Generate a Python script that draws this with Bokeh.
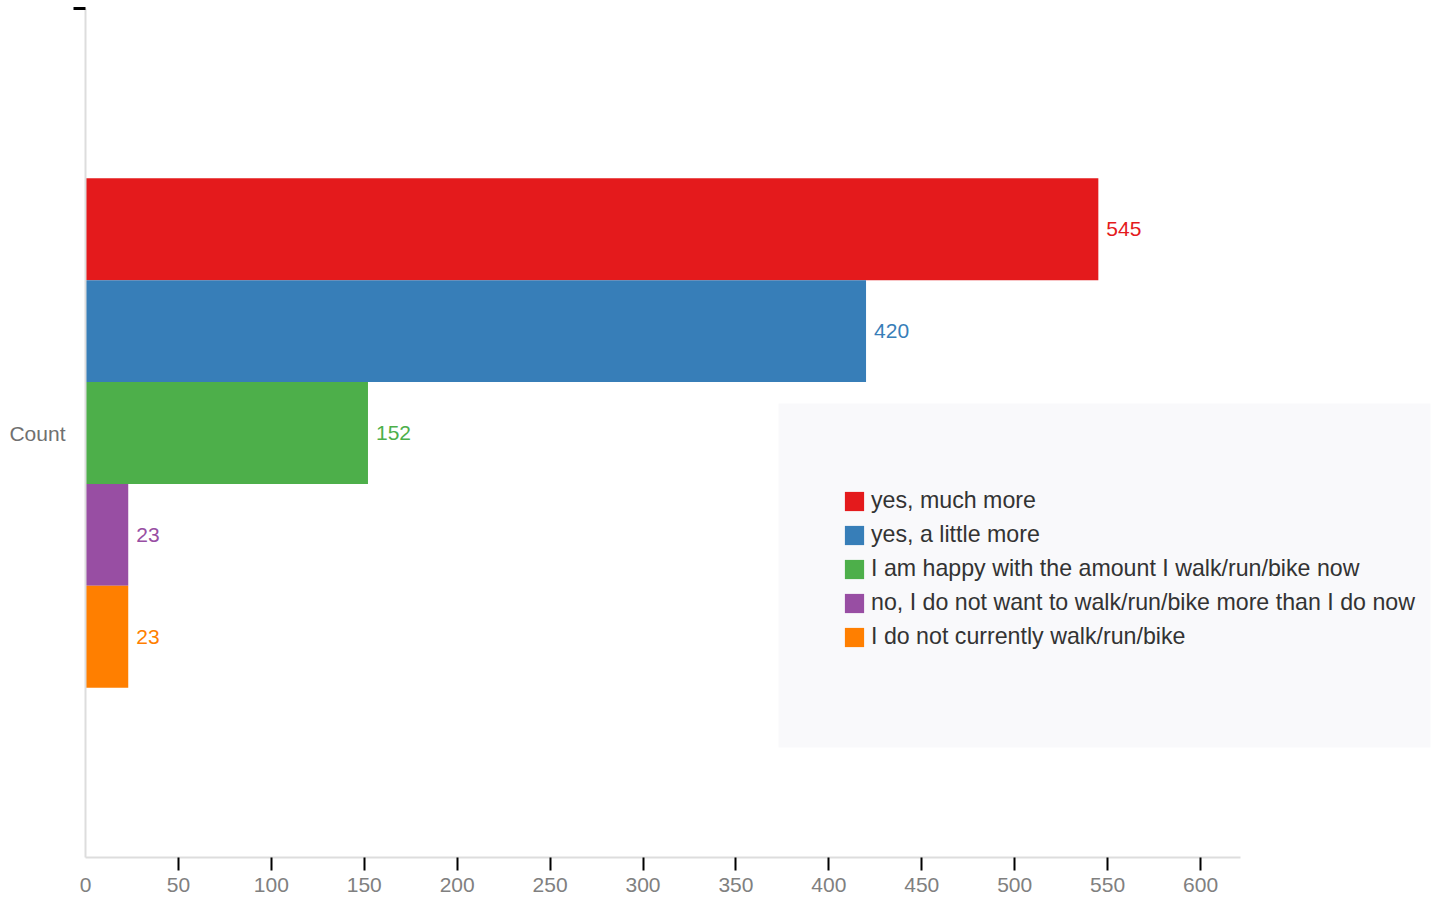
from bokeh.plotting import figure
from bokeh.models import (Range1d, FixedTicker, Legend, LegendItem, BoxAnnotation,
                          ColumnDataSource, LabelSet)
from bokeh.core.properties import value
from bokeh.embed import file_html
from bokeh.resources import INLINE

# ---- data ----
categories = ["Count"]
series = [
    "yes, much more",
    "yes, a little more",
    "I am happy with the amount I walk/run/bike now",
    "no, I do not want to walk/run/bike more than I do now",
    "I do not currently walk/run/bike",
]
counts = [545, 420, 152, 23, 23]
colors = ["#e41a1c", "#377eb8", "#4daf4a", "#984ea3", "#ff7f00"]
x_ticks = [0, 50, 100, 150, 200, 250, 300, 350, 400, 450, 500, 550, 600]
x_axis_end = 621.5

FONT = "Liberation Sans"

# dodge layout inside the single category band (centre 0.5, band 0..1)
n = len(series)
group_span = 0.6
bar_h = group_span / n
ypos = [0.5 + ((n - 1) / 2 - i) * bar_h for i in range(n)]

src = ColumnDataSource(dict(
    series=series, count=counts, color=colors, ypos=ypos,
    label=[str(c) for c in counts],
))

p = figure(width=1437, height=898,
           x_range=Range1d(0, 727.5), y_range=Range1d(0, 1),
           output_backend="svg", toolbar_location=None,
           min_border_left=85, min_border_right=0,
           min_border_top=8, min_border_bottom=41)
p.outline_line_color = None
p.xgrid.visible = False
p.ygrid.visible = False
p.background_fill_color = "white"

r = p.hbar(y="ypos", left=0, right="count", height=bar_h, color="color",
           line_color=None, source=src)

labels = LabelSet(x="count", y="ypos", text="label", source=src,
                  x_offset=8, text_baseline="middle", text_align="left",
                  text_color="color", text_font=value(FONT),
                  text_font_size="21px")
p.add_layout(labels)

# x axis
xa = p.xaxis[0]
xa.bounds = (0, x_axis_end)
xa.ticker = FixedTicker(ticks=x_ticks, minor_ticks=x_ticks[1:])
xa.axis_line_color = "#dddddd"
xa.axis_line_width = 2
xa.major_tick_line_color = None
xa.major_tick_out = 0
xa.major_tick_in = 0
xa.minor_tick_line_color = "black"
xa.minor_tick_line_width = 2
xa.minor_tick_out = 13
xa.minor_tick_in = 0
xa.major_label_standoff = 7
xa.major_label_text_font = FONT
xa.major_label_text_font_size = "21px"
xa.major_label_text_color = "#808080"

# y axis
ya = p.yaxis[0]
ya.ticker = FixedTicker(ticks=[0.5], minor_ticks=[1.0])
ya.major_label_overrides = {0.5: categories[0]}
ya.axis_line_color = "#dddddd"
ya.axis_line_width = 2
ya.major_tick_line_color = None
ya.major_tick_out = 0
ya.major_tick_in = 0
ya.minor_tick_line_color = "black"
ya.minor_tick_line_width = 3
ya.minor_tick_out = 12
ya.minor_tick_in = 0
ya.major_label_standoff = 8
ya.major_label_text_font = FONT
ya.major_label_text_font_size = "21px"
ya.major_label_text_color = "#707070"

# legend background panel
box = BoxAnnotation(left=778, right=1430, top=403, bottom=747,
                    left_units="canvas", right_units="canvas",
                    top_units="canvas", bottom_units="canvas",
                    fill_color="#f9f9fb", fill_alpha=1.0, line_color=None)
p.add_layout(box)

items = [LegendItem(label=s, renderers=[r], index=i) for i, s in enumerate(series)]
legend = Legend(items=items, location=(757, 207), padding=10, spacing=7,
                glyph_width=24, glyph_height=24, label_standoff=5,
                label_text_font=FONT, label_text_font_size="23.2px",
                label_text_color="#333333",
                background_fill_alpha=0, border_line_color=None, margin=0)
p.add_layout(legend, "center")

open("out.html", "w").write(file_html(p, INLINE))
